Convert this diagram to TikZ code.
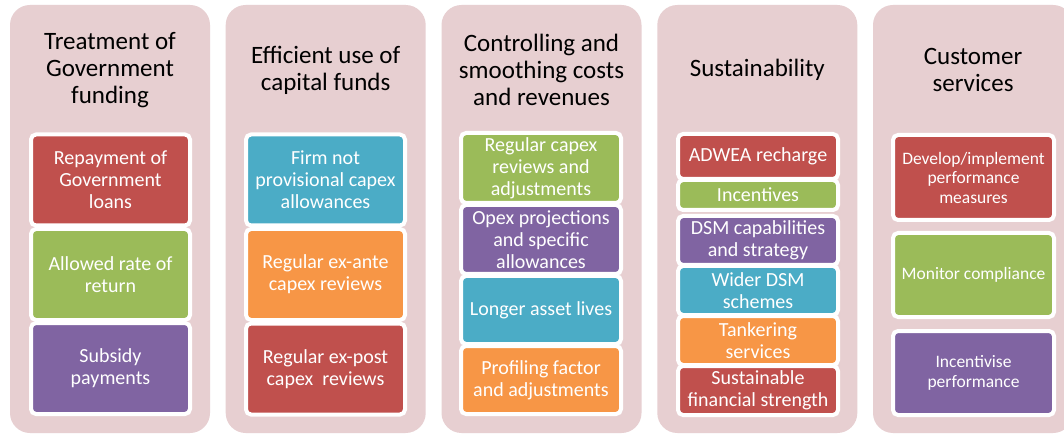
\documentclass[tikz,border=0pt]{standalone}
\usepackage{fontspec}
\setmainfont{Carlito}
\definecolor{cred}{HTML}{C0504D}
\definecolor{cgreen}{HTML}{9BBB59}
\definecolor{cpurple}{HTML}{8064A2}
\definecolor{caqua}{HTML}{4BACC6}
\definecolor{corange}{HTML}{F79646}
\definecolor{cpink}{HTML}{E7CFD1}
\begin{document}
\begin{tikzpicture}[x=1pt,y=-1pt,
  panel/.style={fill=cpink, rounded corners=20pt, inner sep=0pt, minimum width=200pt, minimum height=428pt},
  ttl/.style={align=center, font=\fontsize{25}{27}\selectfont, text=black, inner sep=0pt},
  cbox/.style={draw=white, line width=4pt, rounded corners=5pt, text=white, align=center, inner sep=0pt, font=\fontsize{20}{22}\selectfont},
  small/.style={font=\fontsize{17.5}{19.5}\selectfont},
]
\useasboundingbox (0,0) rectangle (1064,435);
\clip (0,0) rectangle (1064,435);
\fill[white] (0,0) rectangle (1064,435);

% panels
\node[panel] (p1) at (110,219) {};
\node[panel] (p2) at (325.7,219) {};
\node[panel] (p3) at (541.5,219) {};
\node[panel] (p4) at (757.3,219) {};
\node[panel] (p5) at (973,219) {};

% titles
\node[ttl] (t1) at (110,70) {Treatment of\\Government\\funding};
\node[ttl] (t2) at (325.7,70) {Efficient use of\\capital funds};
\node[ttl] (t3) at (541.5,70) {Controlling and\\smoothing costs\\and revenues};
\node[ttl] (t4) at (757.3,70) {Sustainability};
\node[ttl] (t5) at (973,70) {Customer\\services};

% column 1
\begin{scope}[every node/.append style={minimum width=159pt, minimum height=91pt}]
\node[cbox, fill=cred] (b11) at (110.5,180) {Repayment of\\Government\\loans};
\node[cbox, fill=cgreen] (b12) at (110.5,274.5) {Allowed rate of\\return};
\node[cbox, fill=cpurple] (b13) at (110.5,368.5) {Subsidy\\payments};
% column 2
\node[cbox, fill=caqua] (b21) at (325.5,180) {Firm not\\provisional capex\\allowances};
\node[cbox, fill=corange] (b22) at (325.5,274.5) {Regular ex-ante\\capex reviews};
\node[cbox, fill=cred] (b23) at (325.5,369) {Regular ex-post\\capex\ \ reviews};
\end{scope}

% column 3
\begin{scope}[every node/.append style={minimum width=160pt, font=\fontsize{20}{21.5}\selectfont}]
\node[cbox, fill=cgreen, minimum height=70pt] (b31) at (541,168) {Regular capex\\reviews and\\adjustments};
\node[cbox, fill=cpurple, minimum height=69pt] (b32) at (541,239.5) {Opex projections\\and specific\\allowances};
\node[cbox, fill=caqua, minimum height=68pt] (b33) at (541,310) {Longer asset lives};
\node[cbox, fill=corange, minimum height=68pt] (b34) at (541,380) {Profiling factor\\and adjustments};
\end{scope}

% column 4
\begin{scope}[every node/.append style={minimum width=160pt}]
\node[cbox, fill=cred, minimum height=45pt] (b41) at (758,156.5) {ADWEA recharge};
\node[cbox, fill=cgreen, minimum height=30pt] (b42) at (758,195) {Incentives};
\node[cbox, fill=cpurple, minimum height=49pt] (b43) at (758,240.5) {DSM capabilities\\and strategy};
\node[cbox, fill=caqua, minimum height=49pt] (b44) at (758,290.5) {Wider DSM\\schemes};
\node[cbox, fill=corange, minimum height=49pt] (b45) at (758,340.5) {Tankering\\services};
\node[cbox, fill=cred, minimum height=49pt] (b46) at (758,390.5) {Sustainable\\financial strength};
\end{scope}

% column 5
\begin{scope}[every node/.append style={minimum width=161pt}]
\node[cbox, small, fill=cred, minimum height=85pt] (b51) at (973.5,177.5) {Develop/implement\\performance\\measures};
\node[cbox, small, fill=cgreen, minimum height=84pt] (b52) at (973.5,275) {Monitor compliance};
\node[cbox, small, fill=cpurple, minimum height=84pt] (b53) at (973.5,373) {Incentivise\\performance};
\end{scope}
\end{tikzpicture}
\end{document}
